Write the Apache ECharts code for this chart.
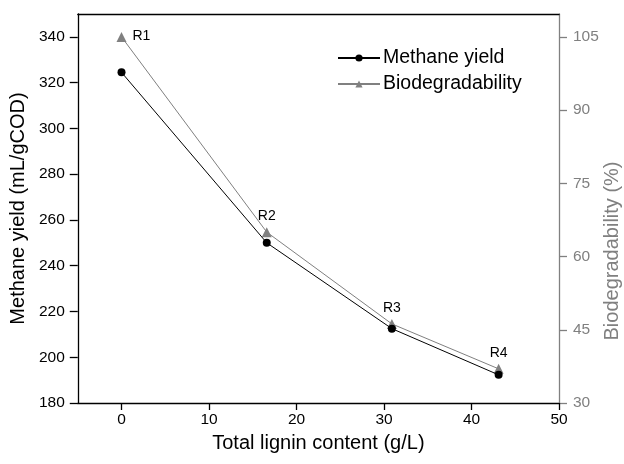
<!DOCTYPE html>
<html>
<head>
<meta charset="utf-8">
<script src="https://cdn.jsdelivr.net/npm/echarts@6/dist/echarts.min.js"></script>
<style>
  html, body { margin: 0; padding: 0; background: #fff; }
  #chart { width: 624px; height: 464px; }
</style>
</head>
<body>
<div id="chart"></div>
<script>
// Total lignin content of each reactor (g/L)
const ligninContent = [0, 16.6, 30.9, 43.1];
// Methane yield (mL/gCOD)
const methaneYield = [324.5, 250, 212.5, 192.3];
// Biodegradability (%)
const biodegradability = [105, 65, 46.2, 37];
// Reactor names shown next to the points
const reactorNames = ['R1', 'R2', 'R3', 'R4'];
// Tick labels
const xTicks = [0, 10, 20, 30, 40, 50];
const leftTicks = [180, 200, 220, 240, 260, 280, 300, 320, 340];
const rightTicks = [30, 45, 60, 75, 90, 105];

const FONT = 'Liberation Sans, Arial, sans-serif';
const GREY = '#808080';

const chart = echarts.init(document.getElementById('chart'), null, { renderer: 'canvas' });

const methaneData = ligninContent.map((x, i) => [x, methaneYield[i]]);
const bioData = ligninContent.map((x, i) => ({
  value: [x, biodegradability[i]],
  name: reactorNames[i],
  label: i === 0
    ? { position: 'right', distance: 6, offset: [0, -1] }
    : { position: 'top', distance: 4 }
}));

// left axis 180..350 maps to right axis 30..109.6875 (same scale ratio)
const leftMin = 180, leftMax = 350;
const rightMin = 30, rightMax = 30 + (leftMax - leftMin) * 75 / 160;

chart.setOption({
  animation: false,
  backgroundColor: '#fff',
  grid: { left: 77, right: 65, top: 14, bottom: 61, containLabel: false },
  legend: {
    data: ['Methane yield', 'Biodegradability'],
    orient: 'vertical',
    left: 332,
    top: 43,
    itemGap: 6,
    itemWidth: 42,
    itemHeight: 9,
    textStyle: { fontFamily: FONT, fontSize: 19.5, color: '#000', padding: [0, 0, 0, -2] }
  },
  // right-hand axis title, placed along the lower part of the axis
  graphic: [{
    type: 'text',
    x: 612,
    y: 251,
    rotation: Math.PI / 2,
    style: {
      text: 'Biodegradability (%)',
      fontFamily: FONT,
      fontSize: 20,
      fill: GREY,
      align: 'center',
      verticalAlign: 'middle'
    }
  }],
  xAxis: [{
    type: 'value',
    min: -5,
    max: 50,
    name: 'Total lignin content (g/L)',
    nameLocation: 'middle',
    nameGap: 30,
    nameTextStyle: { fontFamily: FONT, fontSize: 20, color: '#000' },
    axisLine: { show: true, onZero: false, lineStyle: { color: '#000', width: 1.3 } },
    axisTick: { show: true, length: 7, customValues: xTicks, lineStyle: { color: '#000', width: 1.3 } },
    axisLabel: { customValues: xTicks, fontFamily: FONT, fontSize: 15.5, color: '#000', margin: 9 },
    splitLine: { show: false }
  }, {
    type: 'value',
    position: 'top',
    min: -5,
    max: 50,
    axisLine: { show: true, onZero: false, lineStyle: { color: '#000', width: 1.3 } },
    axisTick: { show: false },
    axisLabel: { show: false },
    splitLine: { show: false }
  }],
  yAxis: [{
    type: 'value',
    position: 'left',
    min: leftMin,
    max: leftMax,
    name: 'Methane yield (mL/gCOD)',
    nameLocation: 'middle',
    nameGap: 45,
    nameRotate: 90,
    nameTextStyle: { fontFamily: FONT, fontSize: 20, color: '#000' },
    axisLine: { show: true, onZero: false, lineStyle: { color: '#000', width: 1.3 } },
    axisTick: { show: true, length: 8, customValues: leftTicks, lineStyle: { color: '#000', width: 1.3 } },
    axisLabel: { customValues: leftTicks, fontFamily: FONT, fontSize: 15.5, color: '#000', margin: 13 },
    splitLine: { show: false }
  }, {
    type: 'value',
    position: 'right',
    min: rightMin,
    max: rightMax,
    axisLine: { show: true, onZero: false, lineStyle: { color: GREY, width: 1.3 } },
    axisTick: { show: true, length: 8, customValues: rightTicks, lineStyle: { color: GREY, width: 1.3 } },
    axisLabel: { customValues: rightTicks, fontFamily: FONT, fontSize: 15.5, color: GREY, margin: 14 },
    splitLine: { show: false }
  }],
  series: [{
    name: 'Biodegradability',
    type: 'line',
    xAxisIndex: 0,
    yAxisIndex: 1,
    data: bioData,
    symbol: 'triangle',
    symbolSize: 10,
    lineStyle: { color: GREY, width: 1 },
    itemStyle: { color: GREY },
    label: {
      show: true,
      formatter: p => p.name,
      fontFamily: FONT,
      fontSize: 14,
      color: '#000'
    },
    z: 2
  }, {
    name: 'Methane yield',
    type: 'line',
    xAxisIndex: 0,
    yAxisIndex: 0,
    data: methaneData,
    symbol: 'circle',
    symbolSize: 8,
    lineStyle: { color: '#000', width: 1 },
    itemStyle: { color: '#000' },
    z: 3
  }]
});
</script>
</body>
</html>
